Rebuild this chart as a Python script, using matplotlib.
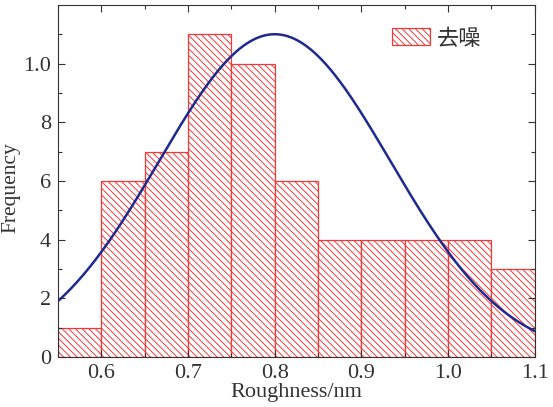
import numpy as np
import matplotlib.pyplot as plt

plt.rcParams['font.family'] = ['Liberation Serif', 'Noto Sans CJK SC']
plt.rcParams['hatch.color'] = '#f06a6a'
plt.rcParams['hatch.linewidth'] = 0.7

# bin edges and counts
bin_left = [0.55, 0.60, 0.65, 0.70, 0.75, 0.80, 0.85, 0.90, 0.95, 1.00, 1.05]
counts = [1, 6, 7, 11, 10, 6, 4, 4, 4, 4, 3]
bin_width = 0.05

# normal fit curve parameters (estimated)
fit_mu = 0.80
fit_sigma = 0.1335
fit_peak = 11.0

y_ticks = [0, 2, 4, 6, 8, 10]
y_tick_labels = ['0', '2', '4', '6', '8', '1.0']
x_ticks = [0.6, 0.7, 0.8, 0.9, 1.0, 1.1]
x_tick_labels = ['0.6', '0.7', '0.8', '0.9', '1.0', '1.1']

fig = plt.figure(figsize=(5.53, 4.07), dpi=100)
ax = fig.add_axes([0.105, 0.123, 0.862, 0.865])

ax.bar(bin_left, counts, width=bin_width, align='edge', facecolor='white',
       edgecolor='#f03a3a', linewidth=0.9, hatch='\\\\\\\\\\', label='去噪')

xs = np.linspace(0.55, 1.1, 300)
ys = fit_peak * np.exp(-(xs - fit_mu) ** 2 / (2 * fit_sigma ** 2))
ax.plot(xs, ys, color='#1f2a8e', linewidth=1.8)

ax.set_xlim(0.55, 1.1)
ax.set_ylim(0, 12)
ax.set_xticks(x_ticks)
ax.set_xticklabels(x_tick_labels)
ax.set_yticks(y_ticks)
ax.set_yticklabels(y_tick_labels)
ax.set_xticks(np.arange(0.55, 1.1, 0.1), minor=True)
ax.set_yticks([1, 3, 5, 7, 9, 11], minor=True)
ax.tick_params(direction='in', top=True, right=True, which='both', labelsize=16,
               colors='#333333', width=0.8)
ax.tick_params(which='major', length=5, pad=5)
ax.tick_params(which='minor', length=3)
for s in ax.spines.values():
    s.set_color('#333333')
    s.set_linewidth(0.8)

ax.set_xlabel('Roughness/nm', fontsize=16, color='#333333', labelpad=0)
ax.set_ylabel('Frequency', fontsize=15.5, color='#333333')
ax.yaxis.set_label_coords(-0.078, 0.48)

leg = ax.legend(loc='upper right', frameon=False, fontsize=16,
                handlelength=1.7, handleheight=0.8, handletextpad=0.3,
                bbox_to_anchor=(0.93, 0.99))
for t in leg.get_texts():
    t.set_color('#333333')

fig.savefig('out.png', dpi=100)
